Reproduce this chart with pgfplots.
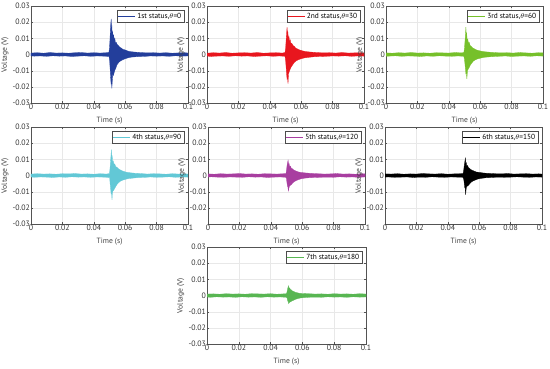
\documentclass[border=0pt]{standalone}
\usepackage{pgfplots}
\pgfplotsset{compat=1.18}
\usepackage{fontspec}
\setmainfont{PT Sans}
\definecolor{c1}{RGB}{35,62,155}
\definecolor{c2}{RGB}{232,22,30}
\definecolor{c3}{RGB}{118,192,42}
\definecolor{c4}{RGB}{98,200,214}
\definecolor{c5}{RGB}{168,62,160}
\definecolor{c6}{RGB}{0,0,0}
\definecolor{c7}{RGB}{88,182,82}
\pgfplotsset{
 sig/.style={
  scale only axis, width=157pt, height=97pt,
  xmin=0,xmax=0.1,ymin=-0.03,ymax=0.03,
  scaled x ticks=false, scaled y ticks=false,
  xtick={0,0.02,0.04,0.06,0.08,0.1},
  xticklabels={0,0.02,0.04,0.06,0.08,0.1},
  ytick={-0.03,-0.02,-0.01,0,0.01,0.02,0.03},
  yticklabels={-0.03,-0.02,-0.01,0,0.01,0.02,0.03},
  grid=major, grid style={gray!18, line width=0.3pt},
  axis line style={gray!65!black, line width=0.4pt},
  major tick style={gray!65!black, line width=0.3pt},
  tick align=inside, major tick length=2pt,
  tick label style={font=\fontsize{7.8}{9}\selectfont, text=black!80, inner sep=1.5pt},
  xticklabel style={yshift=1pt},
  yticklabel style={xshift=0.5pt},
  label style={font=\fontsize{7.6}{9}\selectfont, text=black!75, inner sep=1pt},
  xlabel={Time (s)}, ylabel={Voltage (V)},
  xlabel style={at={(axis description cs:0.5,-0.135)}, anchor=north},
  ylabel style={at={(axis description cs:-0.135,0.5)}, anchor=south},
  legend style={at={(0.975,0.955)}, anchor=north east, font=\fontsize{7.4}{8}\selectfont, draw=gray!60!black, inner sep=0.6pt, fill=white, legend cell align=left},
  legend image code/.code={\draw[#1] (0pt,0pt) -- (17pt,0pt);},
 },
 env/.style={forget plot, draw=#1, fill=#1, line width=0.3pt},
}
\begin{document}
\begin{tikzpicture}
\useasboundingbox (0,0) rectangle (550pt,368pt);
% 1
\begin{axis}[sig, at={(31pt,265pt)}, anchor=south west]
\addplot[env=c1] coordinates {(0,0.0009) (0.004,0.0011) (0.008,0.0008) (0.012,0.0012) (0.016,0.0009) (0.02,0.0010) (0.024,0.0008) (0.028,0.0011) (0.032,0.0012) (0.036,0.0009) (0.04,0.0011) (0.044,0.0009) (0.048,0.0011) (0.0496,0.0013) (0.0500,0.004) (0.0503,0.009) (0.0506,0.016) (0.0509,0.020) (0.0511,0.022) (0.0513,0.015) (0.0515,0.018) (0.0517,0.012) (0.0520,0.014) (0.0523,0.011) (0.0526,0.012) (0.0530,0.009) (0.0534,0.010) (0.0538,0.007) (0.0543,0.0075) (0.0550,0.006) (0.0557,0.0055) (0.0565,0.0045) (0.0575,0.004) (0.0585,0.0032) (0.0600,0.0028) (0.0615,0.0022) (0.063,0.0018) (0.066,0.0015) (0.070,0.0012) (0.074,0.0010) (0.078,0.0011) (0.082,0.0009) (0.086,0.0011) (0.09,0.0008) (0.094,0.0010) (0.098,0.0011) (0.1,0.0009)
(0.1,-0.0009) (0.096,-0.0010) (0.092,-0.0008) (0.088,-0.0011) (0.084,-0.0009) (0.080,-0.0010) (0.076,-0.0009) (0.072,-0.0012) (0.068,-0.0013) (0.064,-0.0016) (0.062,-0.0020) (0.060,-0.0026) (0.0585,-0.0032) (0.057,-0.0040) (0.056,-0.0048) (0.055,-0.006) (0.0545,-0.007) (0.054,-0.0085) (0.0535,-0.0095) (0.053,-0.011) (0.0525,-0.013) (0.0521,-0.012) (0.0518,-0.016) (0.0515,-0.021) (0.0513,-0.017) (0.0510,-0.018) (0.0507,-0.014) (0.0504,-0.009) (0.0501,-0.004) (0.0497,-0.0012) (0.046,-0.0010) (0.042,-0.0009) (0.038,-0.0011) (0.034,-0.0008) (0.030,-0.0010) (0.026,-0.0012) (0.022,-0.0009) (0.018,-0.0010) (0.014,-0.0008) (0.010,-0.0011) (0.006,-0.0009) (0.002,-0.0010) (0,-0.0009)} -- cycle;
\addlegendimage{c1, line width=0.5pt}
\addlegendentry{1st status,$\theta$=0}
\end{axis}
% 2
\begin{axis}[sig, at={(207pt,265pt)}, anchor=south west]
\addplot[env=c2] coordinates {(0,0.0008) (0.004,0.0011) (0.008,0.0009) (0.012,0.0012) (0.016,0.0008) (0.02,0.0010) (0.024,0.0011) (0.028,0.0009) (0.032,0.0012) (0.036,0.0008) (0.04,0.0010) (0.044,0.0011) (0.048,0.0009) (0.0497,0.0012) (0.0501,0.004) (0.0504,0.009) (0.0507,0.013) (0.0510,0.017) (0.0512,0.012) (0.0515,0.014) (0.0518,0.010) (0.0522,0.011) (0.0526,0.008) (0.0530,0.009) (0.0535,0.0065) (0.0540,0.007) (0.0548,0.0055) (0.0556,0.005) (0.0565,0.004) (0.0575,0.0035) (0.059,0.0028) (0.061,0.0022) (0.063,0.0018) (0.066,0.0015) (0.070,0.0012) (0.074,0.0010) (0.078,0.0011) (0.082,0.0009) (0.086,0.0012) (0.09,0.0009) (0.094,0.0010) (0.098,0.0011) (0.1,0.0009)
(0.1,-0.0010) (0.096,-0.0009) (0.092,-0.0011) (0.088,-0.0008) (0.084,-0.0010) (0.080,-0.0009) (0.076,-0.0011) (0.072,-0.0012) (0.068,-0.0014) (0.065,-0.0017) (0.062,-0.0021) (0.060,-0.0026) (0.058,-0.0033) (0.0567,-0.0040) (0.0555,-0.005) (0.0545,-0.0065) (0.0537,-0.0075) (0.0530,-0.009) (0.0524,-0.0105) (0.0519,-0.012) (0.0516,-0.018) (0.0513,-0.014) (0.0510,-0.015) (0.0507,-0.012) (0.0504,-0.008) (0.0501,-0.004) (0.0497,-0.0011) (0.046,-0.0009) (0.042,-0.0011) (0.038,-0.0008) (0.034,-0.0010) (0.030,-0.0012) (0.026,-0.0009) (0.022,-0.0010) (0.018,-0.0008) (0.014,-0.0011) (0.010,-0.0009) (0.006,-0.0010) (0.002,-0.0012) (0,-0.0009)} -- cycle;
\addlegendimage{c2, line width=0.5pt}
\addlegendentry{2nd status,$\theta$=30}
\end{axis}
% 3
\begin{axis}[sig, at={(386pt,265pt)}, anchor=south west]
\addplot[env=c3] coordinates {(0,0.0010) (0.004,0.0008) (0.008,0.0011) (0.012,0.0009) (0.016,0.0012) (0.02,0.0009) (0.024,0.0010) (0.028,0.0008) (0.032,0.0011) (0.036,0.0010) (0.04,0.0009) (0.044,0.0012) (0.048,0.0010) (0.0496,0.0012) (0.0500,0.004) (0.0503,0.008) (0.0506,0.012) (0.0509,0.017) (0.0511,0.012) (0.0514,0.013) (0.0517,0.009) (0.0521,0.0095) (0.0525,0.007) (0.0530,0.0075) (0.0536,0.0055) (0.0543,0.005) (0.0550,0.0042) (0.0558,0.0038) (0.0568,0.0032) (0.058,0.0027) (0.060,0.0022) (0.062,0.0018) (0.065,0.0015) (0.069,0.0012) (0.073,0.0010) (0.077,0.0011) (0.081,0.0009) (0.085,0.0012) (0.089,0.0010) (0.093,0.0008) (0.097,0.0011) (0.1,0.0010)
(0.1,-0.0010) (0.096,-0.0008) (0.092,-0.0011) (0.088,-0.0009) (0.084,-0.0010) (0.080,-0.0012) (0.076,-0.0009) (0.072,-0.0011) (0.068,-0.0013) (0.065,-0.0015) (0.062,-0.0018) (0.060,-0.0023) (0.058,-0.0028) (0.0567,-0.0034) (0.0555,-0.0042) (0.0545,-0.0055) (0.0537,-0.0065) (0.0530,-0.008) (0.0524,-0.009) (0.0519,-0.010) (0.0515,-0.015) (0.0512,-0.011) (0.0509,-0.012) (0.0506,-0.009) (0.0503,-0.006) (0.0500,-0.003) (0.0496,-0.0011) (0.046,-0.0009) (0.042,-0.0011) (0.038,-0.0010) (0.034,-0.0008) (0.030,-0.0011) (0.026,-0.0009) (0.022,-0.0012) (0.018,-0.0010) (0.014,-0.0009) (0.010,-0.0011) (0.006,-0.0008) (0.002,-0.0010) (0,-0.0010)} -- cycle;
\addlegendimage{c3, line width=0.5pt}
\addlegendentry{3rd status,$\theta$=60}
\end{axis}
% 4
\begin{axis}[sig, at={(31pt,144pt)}, anchor=south west]
\addplot[env=c4] coordinates {(0,0.0009) (0.004,0.0011) (0.008,0.0009) (0.012,0.0010) (0.016,0.0008) (0.02,0.0011) (0.024,0.0010) (0.028,0.0012) (0.032,0.0009) (0.036,0.0010) (0.04,0.0008) (0.044,0.0011) (0.048,0.0009) (0.0500,0.0012) (0.0504,0.005) (0.0507,0.009) (0.0510,0.013) (0.0512,0.016) (0.0514,0.011) (0.0517,0.012) (0.0520,0.0085) (0.0524,0.009) (0.0528,0.007) (0.0533,0.0072) (0.0540,0.0055) (0.0548,0.005) (0.0556,0.0042) (0.0566,0.0036) (0.0578,0.003) (0.059,0.0025) (0.061,0.002) (0.063,0.0017) (0.066,0.0014) (0.070,0.0012) (0.074,0.0009) (0.078,0.0011) (0.082,0.0010) (0.086,0.0008) (0.090,0.0011) (0.094,0.0009) (0.098,0.0010) (0.1,0.0009)
(0.1,-0.0010) (0.096,-0.0009) (0.092,-0.0011) (0.088,-0.0008) (0.084,-0.0010) (0.080,-0.0011) (0.076,-0.0009) (0.072,-0.0012) (0.068,-0.0013) (0.065,-0.0016) (0.062,-0.0019) (0.060,-0.0024) (0.058,-0.003) (0.0568,-0.0036) (0.0557,-0.0045) (0.0548,-0.0055) (0.0540,-0.0068) (0.0533,-0.008) (0.0527,-0.009) (0.0522,-0.0095) (0.0518,-0.011) (0.0516,-0.015) (0.0513,-0.010) (0.0510,-0.011) (0.0507,-0.008) (0.0504,-0.005) (0.0501,-0.0012) (0.046,-0.0010) (0.042,-0.0009) (0.038,-0.0011) (0.034,-0.0009) (0.030,-0.0010) (0.026,-0.0008) (0.022,-0.0011) (0.018,-0.0009) (0.014,-0.0012) (0.010,-0.0010) (0.006,-0.0009) (0.002,-0.0011) (0,-0.0009)} -- cycle;
\addlegendimage{c4, line width=0.5pt}
\addlegendentry{4th status,$\theta$=90}
\end{axis}
% 5
\begin{axis}[sig, at={(208pt,144pt)}, anchor=south west, yticklabels={,-0.02,-0.01,0,0.01,0.02,0.03}]
\addplot[env=c5] coordinates {(0,0.0010) (0.004,0.0008) (0.008,0.0011) (0.012,0.0009) (0.016,0.0010) (0.02,0.0012) (0.024,0.0009) (0.028,0.0010) (0.032,0.0008) (0.036,0.0011) (0.04,0.0010) (0.044,0.0009) (0.048,0.0011) (0.0497,0.0012) (0.0501,0.004) (0.0504,0.0065) (0.0507,0.008) (0.0510,0.0095) (0.0513,0.007) (0.0516,0.0075) (0.0520,0.0055) (0.0525,0.0058) (0.0530,0.0045) (0.0537,0.0042) (0.0545,0.0035) (0.0555,0.003) (0.0567,0.0025) (0.058,0.0021) (0.060,0.0018) (0.063,0.0015) (0.066,0.0013) (0.070,0.0011) (0.074,0.0009) (0.078,0.0010) (0.082,0.0012) (0.086,0.0009) (0.090,0.0010) (0.094,0.0008) (0.098,0.0011) (0.1,0.0010)
(0.1,-0.0009) (0.096,-0.0011) (0.092,-0.0009) (0.088,-0.0010) (0.084,-0.0008) (0.080,-0.0011) (0.076,-0.0010) (0.072,-0.0011) (0.068,-0.0012) (0.064,-0.0014) (0.061,-0.0017) (0.059,-0.0021) (0.0575,-0.0026) (0.056,-0.0032) (0.055,-0.0038) (0.054,-0.0045) (0.0532,-0.0055) (0.0525,-0.006) (0.0519,-0.0065) (0.0515,-0.008) (0.0512,-0.0095) (0.0509,-0.007) (0.0506,-0.0065) (0.0503,-0.0045) (0.0500,-0.002) (0.0496,-0.0011) (0.046,-0.0009) (0.042,-0.0010) (0.038,-0.0012) (0.034,-0.0009) (0.030,-0.0010) (0.026,-0.0008) (0.022,-0.0011) (0.018,-0.0010) (0.014,-0.0009) (0.010,-0.0011) (0.006,-0.0010) (0.002,-0.0008) (0,-0.0010)} -- cycle;
\addlegendimage{c5, line width=0.5pt}
\addlegendentry{5th status,$\theta$=120}
\end{axis}
% 6
\begin{axis}[sig, at={(385pt,144pt)}, anchor=south west, yticklabels={,-0.02,-0.01,0,0.01,0.02,0.03}]
\addplot[env=c6] coordinates {(0,0.0010) (0.004,0.0009) (0.008,0.0011) (0.012,0.0008) (0.016,0.0010) (0.02,0.0009) (0.024,0.0012) (0.028,0.0010) (0.032,0.0009) (0.036,0.0011) (0.04,0.0008) (0.044,0.0010) (0.048,0.0011) (0.0497,0.0012) (0.0501,0.003) (0.0504,0.0055) (0.0507,0.0075) (0.0510,0.0095) (0.0512,0.011) (0.0514,0.0075) (0.0517,0.008) (0.0521,0.006) (0.0526,0.0062) (0.0531,0.0048) (0.0538,0.0045) (0.0546,0.0037) (0.0556,0.0032) (0.0568,0.0027) (0.058,0.0022) (0.060,0.0019) (0.063,0.0015) (0.066,0.0013) (0.070,0.0011) (0.074,0.0010) (0.078,0.0012) (0.082,0.0009) (0.086,0.0010) (0.090,0.0011) (0.094,0.0009) (0.098,0.0010) (0.1,0.0009)
(0.1,-0.0010) (0.096,-0.0009) (0.092,-0.0011) (0.088,-0.0010) (0.084,-0.0008) (0.080,-0.0010) (0.076,-0.0011) (0.072,-0.0010) (0.068,-0.0012) (0.064,-0.0014) (0.061,-0.0018) (0.059,-0.0022) (0.0575,-0.0028) (0.056,-0.0034) (0.055,-0.004) (0.054,-0.005) (0.0532,-0.006) (0.0525,-0.0065) (0.0519,-0.007) (0.0516,-0.009) (0.0514,-0.012) (0.0511,-0.008) (0.0508,-0.0075) (0.0505,-0.005) (0.0502,-0.0025) (0.0497,-0.0011) (0.046,-0.0010) (0.042,-0.0009) (0.038,-0.0011) (0.034,-0.0010) (0.030,-0.0008) (0.026,-0.0011) (0.022,-0.0010) (0.018,-0.0012) (0.014,-0.0009) (0.010,-0.0010) (0.006,-0.0011) (0.002,-0.0009) (0,-0.0010)} -- cycle;
\addlegendimage{c6, line width=0.5pt}
\addlegendentry{6th status,$\theta$=150}
\end{axis}
% 7
\begin{axis}[sig, at={(207pt,24pt)}, anchor=south west, width=159pt]
\addplot[env=c7] coordinates {(0,0.0009) (0.004,0.0010) (0.008,0.0008) (0.012,0.0011) (0.016,0.0009) (0.02,0.0010) (0.024,0.0008) (0.028,0.0011) (0.032,0.0010) (0.036,0.0009) (0.04,0.0011) (0.044,0.0008) (0.048,0.0010) (0.0500,0.0011) (0.0504,0.0025) (0.0507,0.004) (0.0510,0.0052) (0.0512,0.006) (0.0515,0.0045) (0.0519,0.0048) (0.0524,0.0038) (0.0530,0.0035) (0.0537,0.0028) (0.0545,0.0025) (0.0555,0.002) (0.0567,0.0017) (0.058,0.0014) (0.060,0.0012) (0.064,0.0011) (0.068,0.0009) (0.072,0.0010) (0.076,0.0008) (0.080,0.0011) (0.084,0.0009) (0.088,0.0010) (0.092,0.0008) (0.096,0.0011) (0.1,0.0009)
(0.1,-0.0009) (0.096,-0.0010) (0.092,-0.0008) (0.088,-0.0011) (0.084,-0.0009) (0.080,-0.0010) (0.076,-0.0008) (0.072,-0.0011) (0.068,-0.0010) (0.064,-0.0011) (0.061,-0.0013) (0.059,-0.0015) (0.057,-0.0019) (0.0558,-0.0023) (0.0547,-0.0028) (0.0538,-0.0032) (0.053,-0.0036) (0.0523,-0.004) (0.0518,-0.0042) (0.0514,-0.005) (0.0511,-0.0038) (0.0508,-0.0035) (0.0505,-0.002) (0.0501,-0.0011) (0.046,-0.0009) (0.042,-0.0010) (0.038,-0.0008) (0.034,-0.0011) (0.030,-0.0009) (0.026,-0.0010) (0.022,-0.0008) (0.018,-0.0011) (0.014,-0.0009) (0.010,-0.0010) (0.006,-0.0008) (0.002,-0.0011) (0,-0.0009)} -- cycle;
\addlegendimage{c7, line width=0.5pt}
\addlegendentry{7th status,$\theta$=180}
\end{axis}
\end{tikzpicture}
\end{document}
